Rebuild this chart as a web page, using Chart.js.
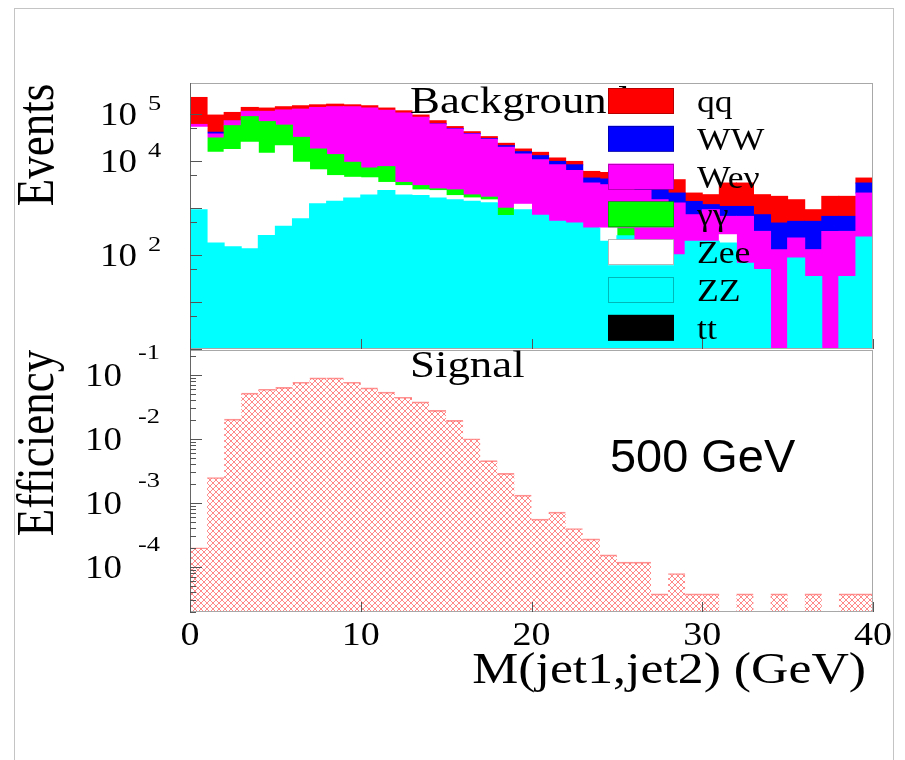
<!DOCTYPE html>
<html>
<head>
<meta charset="utf-8">
<title>M(jet1,jet2) - 500 GeV</title>
<script src="https://cdn.jsdelivr.net/npm/chart.js@4.4.1/dist/chart.umd.min.js"></script>
<style>
  html, body { margin: 0; padding: 0; background: #fff; }
  body { width: 905px; height: 760px; position: relative; overflow: hidden; }
  #sheet { position: absolute; left: 14px; top: 8px; width: 878px; height: 760px;
           border: 1px solid #c4c4c4; border-bottom: none; }
  canvas { position: absolute; left: 0; top: 0; }
</style>
</head>
<body>
<div id="sheet"></div>
<canvas id="bkgChart" width="905" height="760"></canvas>
<canvas id="sigChart" width="905" height="760"></canvas>
<script>
// dijet mass, 40 bins of 1 GeV between 0 and 40 GeV
const nBins = 40;

// background events per bin, one array per process
const zz = [915, 180, 150, 136, 260, 410, 590, 1230, 1400, 1640,
  1900, 2350, 1900, 1840, 1640, 1490, 1400, 1300, 695, 915,
  700, 520, 480, 375, 195, 258, 152, 150, 101, 195,
  195, 180, 67, 49, 0, 86, 35, 0, 35, 241];
const zee = [51100, 15100, 17350, 24900, 14300, 20800, 8800, 5270, 3500, 2860,
  2500, 1150, 1100, 590, 710, 350, 240, 190, 0, 285,
  0, 0, 0, 0, 180, 0, 0, 0, 0, 0,
  0, 90, 0, 0, 0, 0, 0, 0, 0, 0];
const gammaGamma = [0, 15600, 39000, 63000, 54400, 36800, 22500, 11500, 8800, 4900,
  2700, 4100, 500, 570, 200, 590, 260, 210, 295, 0,
  0, 0, 0, 0, 0, 105, 0, 0, 0, 0,
  0, 0, 0, 0, 0, 0, 0, 0, 0, 0];
const wenu = [8000, 6700, 15500, 26000, 45000, 64000, 95100, 120000, 129300, 133600,
  126900, 112400, 101500, 82000, 58450, 45570, 35700, 27300, 18600, 12900,
  10000, 7780, 5820, 3025, 2755, 2637, 2248, 1350, 1179, 525,
  725, 393, 596, 269, 130, 144, 95, 318, 283, 1839];
const ww = [0, 3400, 0, 0, 0, 0, 0, 0, 0, 0,
  0, 0, 0, 0, 800, 1000, 900, 1000, 1600, 1700,
  2300, 1500, 2000, 940, 1010, 1000, 1000, 1100, 800, 660,
  260, 417, 417, 402, 349, 290, 390, 345, 345, 1320];
const qq = [165000, 54000, 36000, 24000, 20000, 21000, 23000, 19000, 19000, 14000,
  16000, 14000, 12000, 10000, 10200, 5000, 3500, 3000, 2600, 2200,
  2300, 1800, 1500, 1660, 1560, 1300, 1500, 1800, 1920, 700,
  740, 2320, 2320, 1200, 1291, 980, 400, 1107, 1107, 940];
const ttbar = [0, 0, 0, 0, 0, 0, 0, 0, 0, 0,
  0, 0, 0, 0, 0, 0, 0, 0, 0, 0,
  0, 0, 0, 0, 0, 0, 0, 0, 0, 0,
  0, 0, 0, 0, 0, 0, 0, 0, 0, 0];

// signal selection efficiency per bin
const signalEff = [2.0e-4, 2.5e-3, 0.0205, 0.052, 0.060, 0.064, 0.077, 0.090, 0.090, 0.077,
  0.063, 0.054, 0.045, 0.038, 0.028, 0.0195, 0.0101, 0.0046, 0.0029, 0.00133,
  5.6e-4, 7.2e-4, 4.0e-4, 2.75e-4, 1.55e-4, 1.19e-4, 1.19e-4, 3.8e-5, 7.9e-5, 3.8e-5,
  3.8e-5, 0, 3.8e-5, 0, 3.8e-5, 0, 3.8e-5, 0, 3.8e-5, 3.8e-5];

// labelled powers of ten and mass ticks
const eventDecades = [5, 4, 2];
const effDecades = [-1, -2, -3, -4];
const massTicks = [0, 10, 20, 30, 40];

// stack order, bottom layer first
const backgrounds = [
  { label: 'tt', values: ttbar, color: '#000000' },
  { label: 'ZZ', values: zz, color: '#00ffff' },
  { label: 'Zee', values: zee, color: '#ffffff' },
  { label: 'γγ', values: gammaGamma, color: '#00ff00' },
  { label: 'Weν', values: wenu, color: '#ff00ff' },
  { label: 'WW', values: ww, color: '#0000ff' },
  { label: 'qq', values: qq, color: '#ff0000' }
];

const SERIF = '"Liberation Serif", "Times New Roman", serif';
const SANS = '"Liberation Sans", Arial, sans-serif';

const toPoints = vals => vals.slice(0, nBins).map((v, i) => ({ x: i + 0.5, y: v }));

function putText(ctx, str, x, y, size, align, sx, family) {
  ctx.save();
  ctx.font = size + 'px ' + (family || SERIF);
  ctx.fillStyle = '#000';
  ctx.textAlign = align;
  ctx.textBaseline = 'alphabetic';
  ctx.translate(x, y);
  ctx.scale(sx, 1);
  ctx.fillText(str, 0, 0);
  ctx.restore();
}

function putVertical(ctx, str, x, yc, size, sx) {
  ctx.save();
  ctx.font = size + 'px ' + SERIF;
  ctx.fillStyle = '#000';
  ctx.textAlign = 'center';
  ctx.textBaseline = 'alphabetic';
  ctx.translate(x, yc);
  ctx.scale(sx, 1);
  ctx.rotate(-Math.PI / 2);
  ctx.fillText(str, 0, 0);
  ctx.restore();
}

function drawFrame(ctx, a) {
  ctx.save();
  ctx.lineWidth = 1;
  ctx.strokeStyle = '#a8a8a8';
  ctx.strokeRect(a.left + 0.5, a.top + 0.5, a.width - 1, a.height - 1);
  ctx.strokeStyle = '#666';
  ctx.beginPath();
  ctx.moveTo(a.left + 0.5, a.top);
  ctx.lineTo(a.left + 0.5, a.bottom);
  ctx.stroke();
  ctx.restore();
}

function addTickY(ctx, a, py, len) {
  if (py < a.top || py > a.bottom) return;
  const yy = Math.round(py) + 0.5;
  ctx.moveTo(a.left, yy);
  ctx.lineTo(a.left + len, yy);
}

function addTicksX(ctx, a, x) {
  massTicks.forEach(t => {
    const px = Math.round(x.getPixelForValue(t)) + 0.5;
    ctx.moveTo(px, a.bottom);
    ctx.lineTo(px, a.bottom - 10);
  });
}

// axes, labels and legend of the background pad
const bkgDecor = {
  id: 'bkgDecor',
  afterDatasetsDraw(chart) {
    const { ctx, chartArea: a, scales: { x, y } } = chart;
    drawFrame(ctx, a);

    ctx.save();
    ctx.strokeStyle = '#555';
    ctx.lineWidth = 1;
    ctx.beginPath();
    for (let e = 0; e <= 6; e++) {
      addTickY(ctx, a, y.getPixelForValue(Math.pow(10, e)), 12);
      addTickY(ctx, a, y.getPixelForValue(5 * Math.pow(10, e - 1)), 7);
    }
    addTicksX(ctx, a, x);
    ctx.stroke();
    ctx.restore();

    eventDecades.forEach(e => {
      const py = y.getPixelForValue(Math.pow(10, e));
      putText(ctx, '10', 137, py + 11, 33, 'right', 1.12);
      putText(ctx, String(e), 148, py - 4, 22, 'left', 1.2);
    });
    putVertical(ctx, 'Events', 53, 145, 45, 1.17);
    putText(ctx, 'Background', 410, 113, 38, 'left', 1.18);

    // legend, top entry is the last stacked layer
    const entries = backgrounds.slice().reverse();
    entries.forEach((b, i) => {
      const top = 88 + i * 37.8;
      ctx.save();
      ctx.fillStyle = b.color;
      ctx.fillRect(608, top, 66, 26);
      ctx.strokeStyle = 'rgba(0, 0, 0, 0.28)';
      ctx.lineWidth = 1;
      ctx.strokeRect(608.5, Math.round(top) + 0.5, 65, 25);
      ctx.restore();
      putText(ctx, b.label, 697, top + 24, 31, 'left', 1.15);
    });
  }
};

// axes and labels of the signal pad
const sigDecor = {
  id: 'sigDecor',
  afterDatasetsDraw(chart) {
    const { ctx, chartArea: a, scales: { x, y } } = chart;
    drawFrame(ctx, a);

    ctx.save();
    ctx.strokeStyle = '#555';
    ctx.lineWidth = 1;
    ctx.beginPath();
    for (let e = -5; e <= 0; e++) {
      addTickY(ctx, a, y.getPixelForValue(Math.pow(10, e)), 12);
      for (let k = 2; k <= 9; k++) {
        addTickY(ctx, a, y.getPixelForValue(k * Math.pow(10, e)), 6);
      }
    }
    addTicksX(ctx, a, x);
    ctx.stroke();
    ctx.restore();

    effDecades.forEach(e => {
      const py = y.getPixelForValue(Math.pow(10, e));
      putText(ctx, '10', 122, py + 11, 33, 'right', 1.12);
      putText(ctx, String(e), 138, py - 16, 22, 'left', 1.2);
    });
    massTicks.forEach(t => {
      putText(ctx, String(t), x.getPixelForValue(t), 645, 34, 'center', 1.12);
    });
    putVertical(ctx, 'Efficiency', 53, 443, 45, 1.17);
    putText(ctx, 'M(jet1,jet2) (GeV)', 866, 683, 45, 'right', 1.15);
    putText(ctx, 'Signal', 410, 377, 38, 'left', 1.18);
    putText(ctx, '500 GeV', 610, 472, 46, 'left', 1.02, SANS);
  }
};

// red cross-hatch fill for the signal histogram
function crossHatch() {
  const tile = document.createElement('canvas');
  tile.width = 6;
  tile.height = 6;
  const g = tile.getContext('2d');
  g.strokeStyle = 'rgba(255, 90, 90, 0.8)';
  g.lineWidth = 0.9;
  g.beginPath();
  g.moveTo(-1, -1); g.lineTo(7, 7);
  g.moveTo(7, -1); g.lineTo(-1, 7);
  g.stroke();
  return g.createPattern(tile, 'repeat');
}

const commonOptions = (padding, yMin, yMax) => ({
  responsive: false,
  animation: false,
  events: [],
  layout: { padding },
  plugins: { legend: { display: false }, tooltip: { enabled: false } },
  scales: {
    x: { type: 'linear', min: 0, max: nBins, offset: false, display: false, stacked: true },
    y: { type: 'logarithmic', min: yMin, max: yMax, display: false, stacked: true }
  }
});

new Chart(document.getElementById('bkgChart'), {
  type: 'bar',
  data: {
    datasets: backgrounds.map(b => ({
      label: b.label,
      data: toPoints(b.values),
      backgroundColor: b.color,
      borderWidth: 0,
      inflateAmount: 0.5,
      barPercentage: 1,
      categoryPercentage: 1
    }))
  },
  options: commonOptions({ left: 190, top: 83, right: 32, bottom: 411 }, 1, 4.57e5),
  plugins: [bkgDecor]
});

new Chart(document.getElementById('sigChart'), {
  type: 'bar',
  data: {
    datasets: [{
      label: 'Signal',
      data: toPoints(signalEff),
      backgroundColor: crossHatch(),
      borderColor: 'rgba(255, 120, 120, 0.8)',
      borderWidth: { top: 1, right: 0, bottom: 0, left: 0 },
      barPercentage: 1,
      categoryPercentage: 1
    }]
  },
  options: commonOptions({ left: 190, top: 350, right: 32, bottom: 148 }, 1.98e-5, 0.246),
  plugins: [sigDecor]
});
</script>
</body>
</html>
